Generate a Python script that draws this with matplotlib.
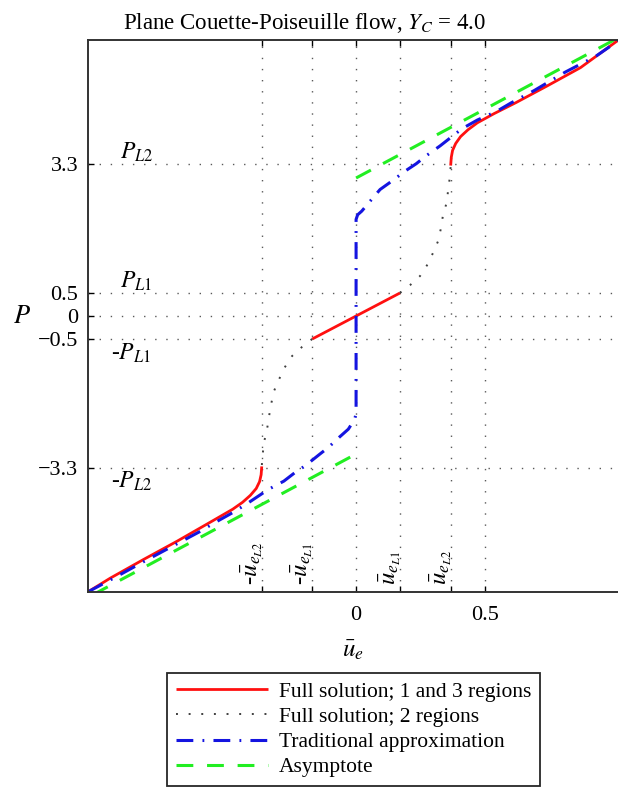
import matplotlib
matplotlib.use('Agg')
import matplotlib.pyplot as plt

plt.rcParams['font.family'] = ['Liberation Serif', 'DejaVu Serif']
plt.rcParams['mathtext.fontset'] = 'stix'
plt.rcParams['font.size'] = 16

# full solution, 1 and 3 regions (red)
red_mid_u = [-0.17, 0.17]
red_mid_P = [-0.5, 0.5]
red_hi_u = [0.367, 0.369, 0.374, 0.386, 0.405, 0.434, 0.47, 0.535, 0.62, 0.74, 0.87, 1.012]
red_hi_P = [3.3, 3.45, 3.6, 3.75, 3.9, 4.05, 4.2, 4.4, 4.64, 5.0, 5.4, 5.98]
red_lo_u = [-0.366, -0.368, -0.374, -0.387, -0.41, -0.44, -0.478, -0.555, -0.695, -0.826, -0.953, -1.04]
red_lo_P = [-3.3, -3.45, -3.6, -3.75, -3.9, -4.05, -4.2, -4.45, -4.9, -5.3, -5.7, -6.0]

# full solution, 2 regions (dotted)
dot_hi_u = [0.17, 0.209, 0.248, 0.278, 0.298, 0.318, 0.329, 0.337, 0.352, 0.357, 0.364, 0.367]
dot_hi_P = [0.5, 0.67, 0.87, 1.13, 1.37, 1.63, 1.91, 2.2, 2.48, 2.76, 3.04, 3.3]
dot_lo_u = [-0.17, -0.209, -0.248, -0.278, -0.298, -0.318, -0.329, -0.337, -0.345, -0.357, -0.362, -0.366]
dot_lo_P = [-0.5, -0.67, -0.87, -1.13, -1.37, -1.63, -1.91, -2.17, -2.46, -2.75, -3.01, -3.3]

# traditional approximation (blue)
blue_u = [-1.04, -0.94, -0.81, -0.71, -0.61, -0.55, -0.48, -0.42,
          -0.34, -0.28, -0.236, -0.198, -0.14, -0.108, -0.066, -0.03, -0.006, 0.0,
          0.0, 0.006, 0.022, 0.061, 0.093, 0.138, 0.19, 0.233, 0.271, 0.326,
          0.41, 0.47, 0.545, 0.60, 0.69, 0.81, 0.93, 1.015]
blue_P = [-6.0, -5.7, -5.3, -5.0, -4.7, -4.5, -4.28, -4.07,
          -3.77, -3.59, -3.4, -3.26, -3.0, -2.86, -2.64, -2.46, -2.25, -2.13,
          2.1, 2.2, 2.28, 2.54, 2.75, 2.93, 3.15, 3.31, 3.48, 3.7,
          4.07, 4.26, 4.45, 4.63, 4.9, 5.3, 5.65, 5.98]

# asymptote (green)
green_hi_u = [0.0, 1.02]
green_hi_P = [3.0, 6.06]
green_lo_u = [-1.02, 0.0]
green_lo_P = [-6.06, -3.0]

xtick_pos = [-0.366, -0.17, 0.0, 0.17, 0.366, 0.5]
xtick_lab = ['', '', '0', '', '', '0.5']
ytick_pos = [-3.3, -0.5, 0.0, 0.5, 3.3]
ytick_lab = ['\u22123.3', '\u22120.5', '0', '0.5', '3.3']
ue_names = [r'-$\bar{u}_{e_{L2}}$', r'-$\bar{u}_{e_{L1}}$', r'$\bar{u}_{e_{L1}}$', r'$\bar{u}_{e_{L2}}$']
ue_pos = [-0.366, -0.17, 0.17, 0.366]
pl_names = [r'$P_{L2}$', r'$P_{L1}$', r'-$P_{L1}$', r'-$P_{L2}$']
pl_pos = [3.3, 0.5, -0.5, -3.3]

W, H = 618, 789
fig = plt.figure(figsize=(W / 100.0, H / 100.0), dpi=100)
ax = fig.add_axes([88.0 / W, 1 - 592.0 / H, 531.0 / W, 552.0 / H])

red = '#ff1010'
blue = '#1414e0'
green = '#22ee22'

l1, = ax.plot(red_mid_u, red_mid_P, color=red, lw=2.0, solid_capstyle='butt')
ax.plot(red_hi_u, red_hi_P, color=red, lw=2.0)
ax.plot(red_lo_u, red_lo_P, color=red, lw=2.0)
l2, = ax.plot(dot_hi_u, dot_hi_P, color='0.25', lw=1.4, ls=(0, (1, 5.5)))
ax.plot(dot_lo_u, dot_lo_P, color='0.25', lw=1.4, ls=(0, (1, 5.5)))
l3, = ax.plot(blue_u, blue_P, color=blue, lw=2.2, ls=(0, (5.5, 3, 0.6, 3)))
l4, = ax.plot(green_hi_u, green_hi_P, color=green, lw=2.2, ls=(0, (5.5, 4.5)))
ax.plot(green_lo_u, green_lo_P, color=green, lw=2.2, ls=(0, (5.5, 4.5)))

ax.set_xlim(-1.039, 1.019)
ax.set_ylim(-6, 6)
ax.set_xticks(xtick_pos)
ax.set_xticklabels(xtick_lab)
ax.set_yticks(ytick_pos)
ax.set_yticklabels(ytick_lab)
ax.tick_params(direction='in', length=4, width=1, top=True, right=False, pad=7, labelsize=16)
ax.tick_params(axis='x', pad=10)
ax.grid(True, color='0.35', lw=1.0, ls=(0, (1, 7)))
for s in ax.spines.values():
    s.set_linewidth(1.4)
    s.set_color('0.2')
ax.spines['right'].set_visible(False)

for name, u in zip(ue_names, ue_pos):
    ax.text(u + 0.012, -5.85, name, rotation=90, ha='right', va='bottom', fontsize=18)
for name, p in zip(pl_names, pl_pos):
    if p > 0:
        ax.text(-0.915, p, name, ha='left', va='bottom', fontsize=17)
    else:
        ax.text(-0.95, p - 0.05, name, ha='left', va='top', fontsize=17)

ax.set_xlabel(r'$\bar{u}_e$', fontsize=18, labelpad=10)
fig.text(22.0 / W, 1 - 317.0 / H, r'$P$', fontsize=19, ha='center', va='center')
fig.text(305.0 / W, 1 - 23.0 / H, r'Plane Couette-Poiseuille flow, $Y_C$ = 4.0',
         fontsize=16.5, ha='center', va='center')

leg = fig.legend([l1, l2, l3, l4],
                 ['Full solution; 1 and 3 regions', 'Full solution; 2 regions',
                  'Traditional approximation', 'Asymptote'],
                 loc='upper left', bbox_to_anchor=(167.0 / W, 1 - 673.0 / H),
                 fancybox=False, framealpha=1, edgecolor='0.15', fontsize=15.5,
                 handlelength=4.3, handletextpad=0.5, labelspacing=0.24,
                 borderpad=0.4, borderaxespad=0)
leg.get_frame().set_linewidth(1.3)

fig.savefig('out.png', dpi=100)
